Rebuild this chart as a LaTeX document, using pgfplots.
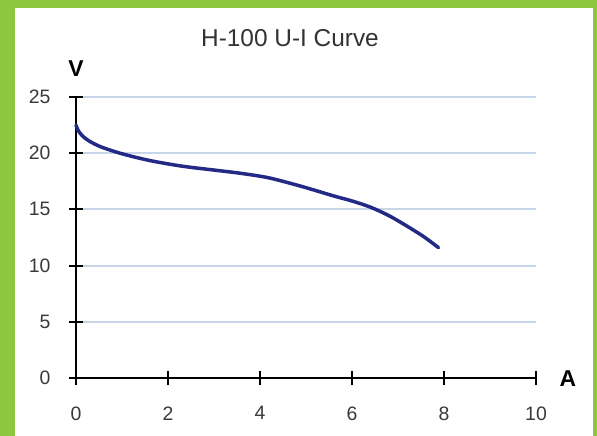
\documentclass[border=0pt]{standalone}
\usepackage{pgfplots}
\pgfplotsset{compat=1.18}
\usepackage{fontspec}
\setmainfont{Liberation Sans}
\definecolor{frame}{HTML}{8DC63F}
\definecolor{gridc}{HTML}{C8D6EA}
\definecolor{curve}{HTML}{232A86}
\definecolor{ticklab}{HTML}{3A3A3A}
\begin{document}
\begin{tikzpicture}
\path[use as bounding box, fill=frame] (-76bp,-58bp) rectangle (521bp,378bp);
\fill[white] (-61bp,-58bp) rectangle (517bp,370bp);
\begin{axis}[
 at={(0,0)}, anchor=south west, scale only axis,
 width=460bp, height=281bp,
 xmin=0, xmax=10, ymin=0, ymax=25,
 axis lines=left, axis line style={-, line width=2.2bp, black},
 xtick={0,2,...,10}, ytick={0,5,...,25},
 tick align=center, major tick length=14bp,
 tick style={line width=2bp, black},
 ymajorgrids, grid style={gridc, line width=2bp},
 ticklabel style={font=\fontsize{19.5}{22}\selectfont, text=ticklab},
 /pgf/number format/assume math mode=true,
 xticklabel style={yshift=-18bp},
 yticklabel style={xshift=-15bp},
 clip=false
]
\addplot[curve, line width=3.5bp, smooth, line cap=round] coordinates {
(0,22.5) (0.05,22.0) (0.15,21.5) (0.3,21.05) (0.55,20.55) (1.0,19.95)
(1.6,19.35) (2.3,18.85) (3.0,18.5) (3.6,18.2) (4.2,17.8) (4.9,17.05)
(5.6,16.2) (6.0,15.75) (6.4,15.2) (6.8,14.45) (7.2,13.5) (7.55,12.6) (7.88,11.6)
};
\end{axis}
\node[font=\fontsize{24.5}{28}\selectfont, text=black!80] at (214bp,340bp) {H-100 U-I Curve};
\node[font=\bfseries\fontsize{23}{26}\selectfont] at (0bp,309bp) {V};
\node[font=\bfseries\fontsize{23}{26}\selectfont] at (492bp,-1bp) {A};
\end{tikzpicture}
\end{document}
